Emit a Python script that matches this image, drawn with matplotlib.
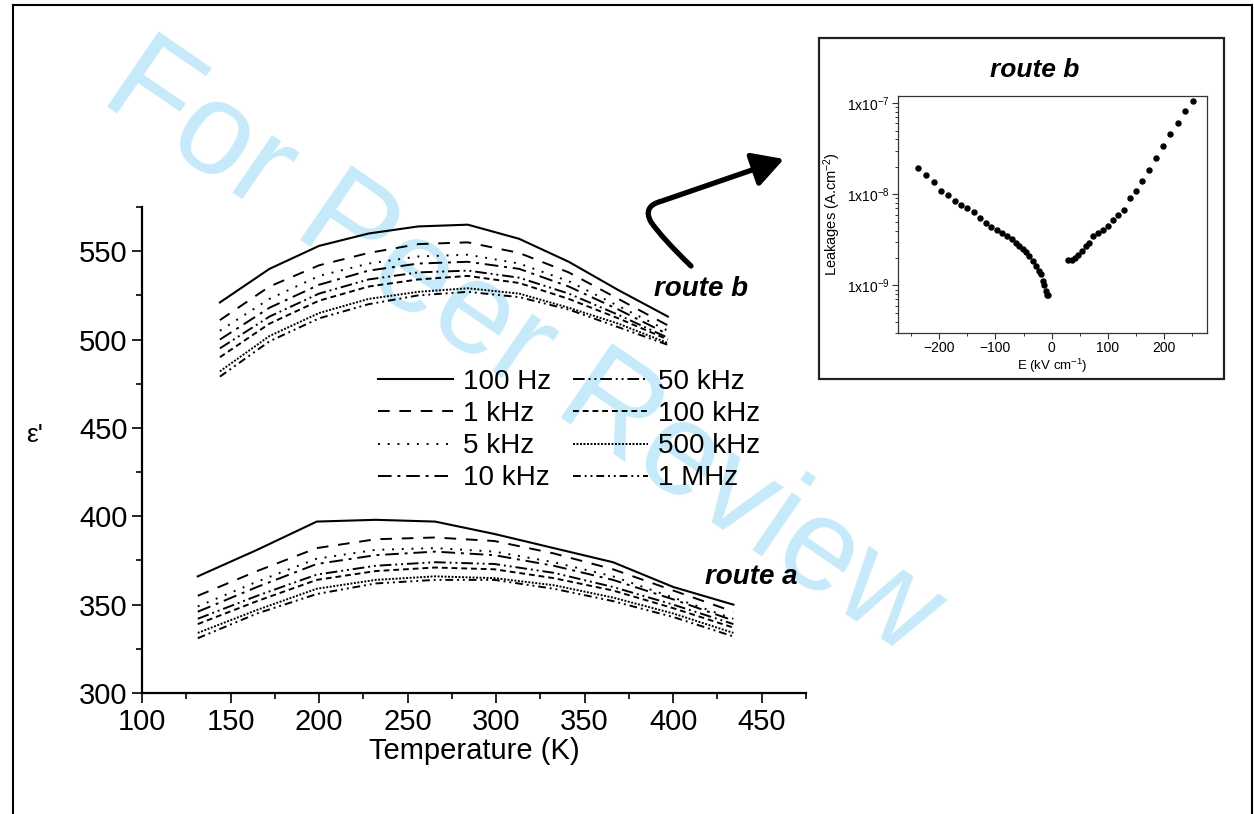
import matplotlib.pyplot as plt
import numpy as np
from matplotlib.path import Path
from matplotlib.patches import FancyArrowPatch, Rectangle
from matplotlib.lines import Line2D
import matplotlib.transforms as mtransforms
from matplotlib.ticker import MultipleLocator, FuncFormatter, LogLocator, NullFormatter

plt.rcParams['font.family'] = ['Liberation Sans', 'DejaVu Sans']
plt.rcParams['mathtext.fontset'] = 'custom'
plt.rcParams['mathtext.rm'] = 'Liberation Sans'
plt.rcParams['mathtext.it'] = 'Liberation Sans:italic'

# --- main plot data: dielectric constant vs temperature ---
labels = ['100 Hz', '1 kHz', '5 kHz', '10 kHz', '50 kHz', '100 kHz', '500 kHz', '1 MHz']

temp_b = [144, 172, 200, 228, 256, 284, 313, 341, 369, 397]
eps_b = [
    [521, 540, 553, 560, 564, 565, 557, 544, 528, 513],
    [511, 530, 542, 549, 554, 555, 549, 538, 523, 508],
    [505, 523, 536, 543, 547, 548, 543, 533, 519, 505],
    [500, 518, 531, 539, 543, 544, 540, 530, 517, 503],
    [495, 513, 526, 534, 538, 539, 535, 526, 514, 501],
    [490, 509, 522, 530, 534, 536, 532, 523, 512, 500],
    [482, 502, 515, 523, 527, 529, 526, 518, 509, 498],
    [479, 499, 512, 520, 525, 527, 524, 517, 507, 497],
]

temp_a = [131.5, 165, 198.7, 232, 265.5, 299, 332.5, 366, 400, 434]
eps_a = [
    [366, 381, 397, 398, 397, 390, 382, 374, 360, 350],
    [355, 369, 382, 387, 388, 386, 379, 370, 358, 346],
    [349, 363, 376, 381, 382, 380, 374, 366, 354, 342],
    [346, 360, 373, 378, 380, 378, 372, 364, 353, 341],
    [342, 355, 367, 372, 374, 373, 368, 360, 350, 339],
    [339, 352, 364, 369, 371, 370, 365, 358, 348, 337],
    [334, 347, 359, 364, 366, 365, 361, 354, 345, 334],
    [331, 345, 356, 362, 364, 364, 359, 352, 343, 332],
]

# --- inset data: leakage current vs field ---
field_neg = [-236.8, -222.6, -209.5, -196.4, -183.4, -171.5, -160.2, -149.6, -138.3, -127.0,
             -117.5, -108.0, -97.9, -89.0, -80.1, -71.2, -64.1, -57.6, -51.6, -46.3,
             -40.4, -33.8, -27.9, -22.6, -19.0, -15.4, -13.1, -10.7, -7.7, -5.9]
leak_neg = [1.95e-8, 1.62e-8, 1.38e-8, 1.08e-8, 9.7e-9, 8.5e-9, 7.7e-9, 7.0e-9, 6.4e-9, 5.5e-9,
            4.87e-9, 4.4e-9, 4.04e-9, 3.75e-9, 3.48e-9, 3.22e-9, 2.94e-9, 2.68e-9, 2.51e-9, 2.32e-9,
            2.12e-9, 1.85e-9, 1.64e-9, 1.44e-9, 1.33e-9, 1.12e-9, 1.02e-9, 8.6e-10, 7.9e-10, 7.8e-10]
field_pos = [29.1, 35.6, 41.5, 46.9, 53.4, 60.5, 66.5, 73.6, 81.9, 91.4, 99.7, 109.2,
             118.7, 128.2, 138.9, 149.6, 160.8, 172.7, 184.6, 197.6, 210.1, 223.7, 237.4, 251.6]
leak_pos = [1.91e-9, 1.88e-9, 2.0e-9, 2.13e-9, 2.38e-9, 2.68e-9, 2.94e-9, 3.51e-9, 3.75e-9, 4.04e-9,
            4.51e-9, 5.25e-9, 5.91e-9, 6.7e-9, 9.2e-9, 1.08e-8, 1.41e-8, 1.87e-8, 2.53e-8, 3.40e-8,
            4.57e-8, 6.14e-8, 8.17e-8, 1.06e-7]

styles = ['-', (0, (6, 5)), (0, (1, 4)), (0, (7, 3, 1.5, 3)),
          (0, (6, 2, 1, 2, 1, 2)), (0, (3, 2)), (0, (1, 0.8)), (0, (4, 2, 1, 2, 1, 2))]

W, H = 1254, 814
fig = plt.figure(figsize=(W / 100, H / 100), dpi=100)

def px(x, y):
    return x / W, 1 - y / H

# watermark behind everything
fig.text(px(522, 350)[0], px(522, 350)[1], 'For Peer Review', fontsize=95, color='#c6eafa',
         rotation=-34.5, ha='center', va='center', rotation_mode='anchor', zorder=-5)

# page border
for xs, ys in [([13, 13], [5, 814]), ([13, 1252], [5, 5]), ([1252, 1252], [5, 814])]:
    fig.add_artist(Line2D([x / W for x in xs], [1 - y / H for y in ys], color='k', lw=1.5))

ax = fig.add_axes([142 / W, 1 - 693 / H, (806 - 142) / W, (693 - 207) / H])
ax.set_facecolor('none')
for i in range(len(labels)):
    lw = 1.5 if i == 0 else 1.4
    ax.plot(temp_b, eps_b[i], color='k', ls=styles[i], lw=lw, label=labels[i])
    ax.plot(temp_a, eps_a[i], color='k', ls=styles[i], lw=lw)

ax.set_xlim(100, 475)
ax.set_ylim(300, 575)
ax.xaxis.set_major_locator(MultipleLocator(50))
ax.xaxis.set_minor_locator(MultipleLocator(25))
ax.yaxis.set_major_locator(MultipleLocator(50))
ax.yaxis.set_minor_locator(MultipleLocator(25))
ax.spines['top'].set_visible(False)
ax.spines['right'].set_visible(False)
for s in ['left', 'bottom']:
    ax.spines[s].set_linewidth(1.6)
ax.tick_params(which='major', direction='out', length=7.5, width=1.2, labelsize=21, pad=3)
ax.tick_params(which='minor', direction='out', length=4, width=1.2)
ax.set_xlabel('Temperature (K)', fontsize=21, labelpad=1)
fig.text(px(35, 435)[0], px(35, 435)[1], "ε'", fontsize=19, ha='center', va='center')

ax.text(389, 528.5, 'route b', fontsize=20, fontweight='bold', fontstyle='italic', ha='left', va='center')
ax.text(418, 365.5, 'route a', fontsize=20, fontweight='bold', fontstyle='italic', ha='left', va='center')

ax.legend(ncol=2, frameon=False, fontsize=20, handlelength=2.7, handletextpad=0.35,
          columnspacing=0.8, labelspacing=0.22, borderpad=0, borderaxespad=0,
          loc='upper left', bbox_to_anchor=px(378, 369), bbox_transform=fig.transFigure)

# curved arrow pointing to inset
to_disp = mtransforms.Affine2D().scale(1 / W, -1 / H).translate(0, 1) + fig.transFigure
arrow_path = Path([(691, 266), (662, 238), (651, 222), (642, 206), (662, 201), (784, 159)],
                  [Path.MOVETO, Path.CURVE3, Path.CURVE3, Path.CURVE3, Path.CURVE3, Path.LINETO])
arr = FancyArrowPatch(path=arrow_path, arrowstyle='-|>,head_length=0.45,head_width=0.25',
                      mutation_scale=42, lw=3.8, color='k', transform=to_disp)
fig.add_artist(arr)

# inset frame
fig.add_artist(Rectangle(px(819, 379), (1224 - 819) / W, (379 - 38) / H, fill=False,
                         lw=1.6, edgecolor='#222222', transform=fig.transFigure))

axi = fig.add_axes([898 / W, 1 - 333 / H, (1207 - 898) / W, (333 - 96) / H])
axi.set_facecolor('none')
axi.plot(field_neg, leak_neg, 'o', color='k', ms=3.6)
axi.plot(field_pos, leak_pos, 'o', color='k', ms=3.6)
axi.set_yscale('log')
axi.set_xlim(-273, 276)
axi.set_ylim(3e-10, 1.2e-7)
axi.xaxis.set_major_locator(MultipleLocator(100))
axi.xaxis.set_minor_locator(MultipleLocator(50))
axi.yaxis.set_major_locator(LogLocator(base=10, numticks=10))
axi.yaxis.set_minor_locator(LogLocator(base=10, subs=np.arange(2, 10), numticks=10))
axi.yaxis.set_minor_formatter(NullFormatter())
axi.yaxis.set_major_formatter(FuncFormatter(lambda v, p: r'1x10$^{%d}$' % round(np.log10(v))))
for s in axi.spines.values():
    s.set_linewidth(0.9)
    s.set_color('#333333')
axi.tick_params(which='major', direction='out', length=4, width=0.8, labelsize=10, pad=2, color='#333333')
axi.tick_params(which='minor', direction='out', length=2, width=0.7, color='#333333')
axi.set_xlabel(r'E (kV cm$^{-1}$)', fontsize=9.5, labelpad=1)
axi.set_ylabel(r'Leakages (A.cm$^{-2}$)', fontsize=10.5, labelpad=3)
fig.text(px(1035, 70)[0], px(1035, 70)[1], 'route b', fontsize=19, fontweight='bold',
         fontstyle='italic', ha='center', va='center')

fig.savefig('out.png', dpi=100)
